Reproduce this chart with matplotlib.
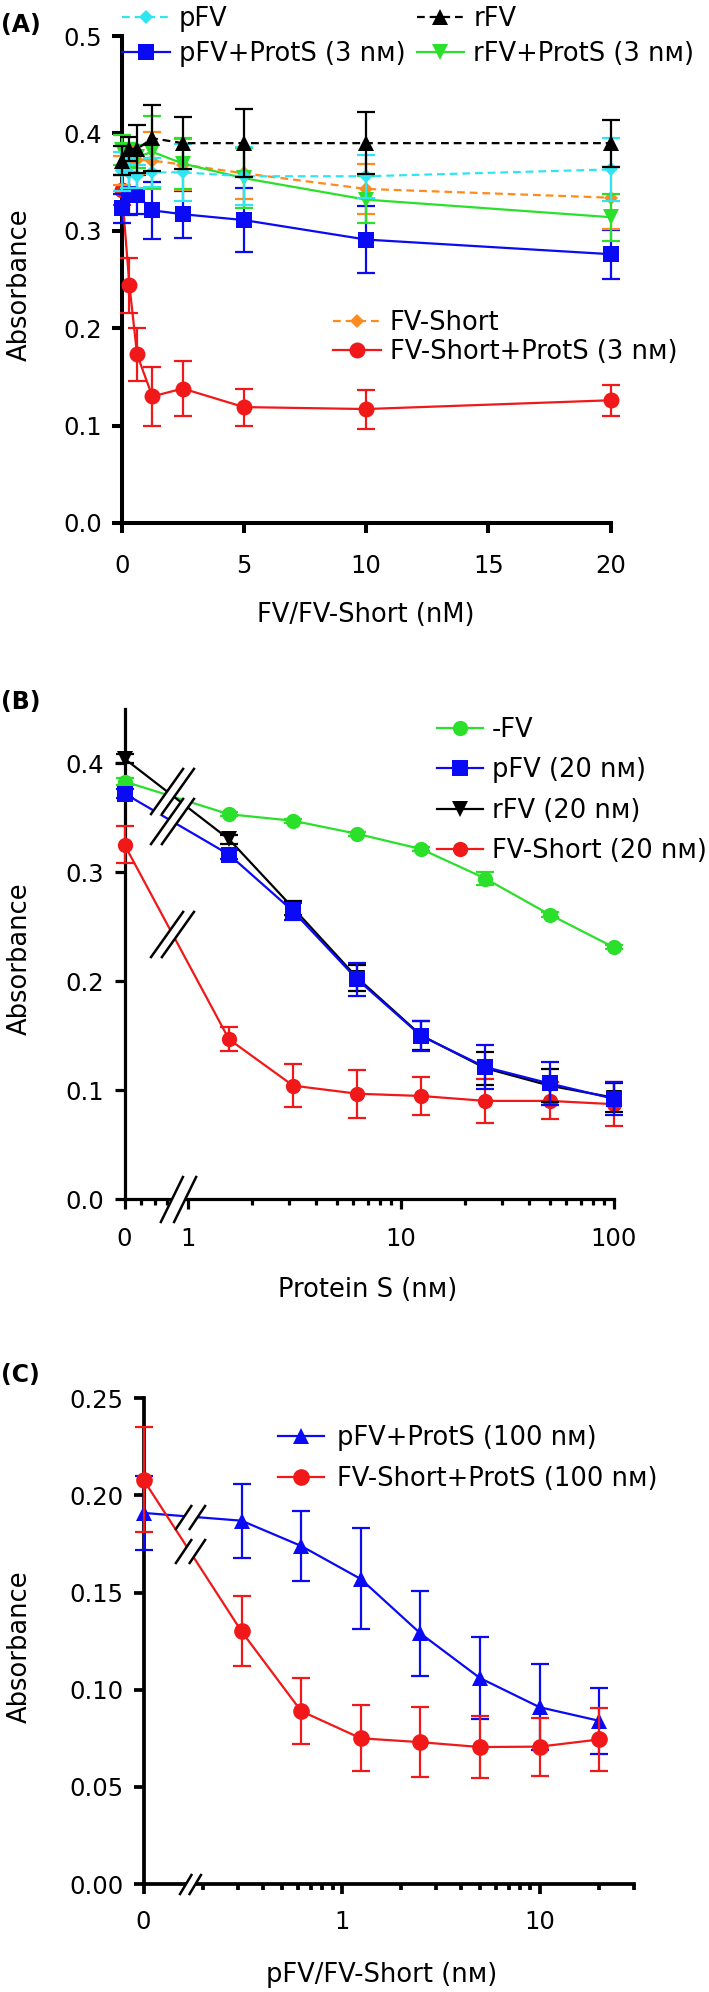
import numpy as np
import matplotlib
matplotlib.use("Agg")
import matplotlib.pyplot as plt
from matplotlib.path import Path

plt.rcParams['font.family'] = ['DejaVu Sans']

# ---------------- data ----------------
# Panel A
xA = [0, 0.3125, 0.625, 1.25, 2.5, 5, 10, 20]
pFV_A = [0.361, 0.359, 0.356, 0.360, 0.360, 0.356, 0.356, 0.363]
pFV_A_err = [0.020, 0.015, 0.012, 0.015, 0.029, 0.030, 0.022, 0.032]
rFV_A = [0.372, 0.384, 0.384, 0.395, 0.390, 0.390, 0.390, 0.390]
rFV_A_err = [0.015, 0.012, 0.025, 0.034, 0.027, 0.035, 0.032, 0.024]
pFVPS_A = [0.323, 0.338, 0.337, 0.321, 0.317, 0.311, 0.291, 0.276]
pFVPS_A_err = [0.015, 0.022, 0.020, 0.029, 0.024, 0.033, 0.034, 0.025]
rFVPS_A = [0.383, 0.378, 0.376, 0.381, 0.369, 0.354, 0.332, 0.314]
rFVPS_A_err = [0.015, 0.012, 0.012, 0.037, 0.026, 0.031, 0.024, 0.024]
short_A = [0.362, 0.372, 0.373, 0.372, 0.368, 0.359, 0.343, 0.334]
short_A_err = [0.015, 0.015, 0.015, 0.029, 0.026, 0.026, 0.026, 0.032]
shortPS_A = [0.342, 0.244, 0.173, 0.130, 0.138, 0.119, 0.117, 0.126]
shortPS_A_err = [0.015, 0.028, 0.027, 0.030, 0.028, 0.019, 0.020, 0.016]

# Panel B
xB = [0, 1.5625, 3.125, 6.25, 12.5, 25, 50, 100]
noFV_B = [0.383, 0.353, 0.347, 0.335, 0.321, 0.294, 0.261, 0.231]
noFV_B_err = [0.003, 0.002, 0.002, 0.002, 0.002, 0.006, 0.002, 0.002]
pFV_B = [0.372, 0.316, 0.264, 0.2015, 0.1495, 0.121, 0.106, 0.092]
pFV_B_err = [0.004, 0.004, 0.008, 0.015, 0.014, 0.020, 0.020, 0.015]
rFV_B = [0.404, 0.330, 0.267, 0.203, 0.150, 0.120, 0.104, 0.093]
rFV_B_err = [0.004, 0.004, 0.006, 0.012, 0.013, 0.015, 0.015, 0.013]
short_B = [0.325, 0.1465, 0.104, 0.0966, 0.0945, 0.090, 0.090, 0.087]
short_B_err = [0.017, 0.011, 0.020, 0.022, 0.017, 0.020, 0.017, 0.020]

# Panel C
xC = [0, 0.3125, 0.625, 1.25, 2.5, 5, 10, 20]
pFVPS_C = [0.191, 0.187, 0.174, 0.157, 0.129, 0.106, 0.091, 0.084]
pFVPS_C_err = [0.019, 0.019, 0.018, 0.026, 0.022, 0.021, 0.022, 0.017]
shortPS_C = [0.208, 0.130, 0.089, 0.075, 0.073, 0.0705, 0.0707, 0.0744]
shortPS_C_err = [0.027, 0.018, 0.017, 0.017, 0.018, 0.016, 0.015, 0.016]

NM = 'n\u1D0D'  # small-capital M

CYAN = '#2EE6F2'
BLUE = '#0A0AF5'
GREEN = '#2BE02B'
ORANGE = '#FF8A1E'
RED = '#F01818'
BLACK = '#000000'

TICK_FS = 17.5
LAB_FS = 18.5
LEG_FS = 18.5

W, H = 709, 1992
fig = plt.figure(figsize=(W / 100, H / 100), dpi=100)


def axes_px(left, right, top, bottom):
    return fig.add_axes([left / W, 1 - bottom / H, (right - left) / W, (bottom - top) / H])


def style_axes(ax, lw=2.6, xpad=11):
    for s in ['top', 'right']:
        ax.spines[s].set_visible(False)
    for s in ['left', 'bottom']:
        ax.spines[s].set_linewidth(lw)
    ax.tick_params(axis='both', which='major', direction='out', length=7.5, width=lw,
                   labelsize=TICK_FS, color='black')
    ax.tick_params(axis='both', which='minor', direction='out', length=4.5, width=lw)
    ax.tick_params(axis='y', pad=7)
    ax.tick_params(axis='x', pad=xpad)
    ax.set_facecolor('none')


def series(ax, x, y, err, color, marker, ms, label, ls='-', z=3):
    ax.errorbar(x, y, yerr=err, fmt='none', ecolor=color, elinewidth=1.6,
                capsize=6.5, capthick=1.6, zorder=z, clip_on=False)
    ax.plot(x, y, color=color, marker=marker, markersize=ms, linestyle=ls,
            linewidth=1.6, label=label, zorder=z + 0.5, clip_on=False,
            markeredgewidth=0, dashes=(3.5, 2.2) if ls == '--' else (None, None))


def make_scale(c, f0):
    lc = np.log10(c)

    def fwd(x):
        x = np.asarray(x, dtype=float)
        out = np.empty_like(x)
        m = x >= c
        out[m] = np.log10(x[m])
        out[~m] = f0 + (x[~m] / c) * (lc - f0)
        return out

    def inv(y):
        y = np.asarray(y, dtype=float)
        out = np.empty_like(y)
        m = y >= lc
        out[m] = 10 ** y[m]
        out[~m] = (y[~m] - f0) / (lc - f0) * c
        return out
    return fwd, inv


def slash_marker(dx, sep, rect=False):
    # two parallel slashes, half-height 1
    a1 = (-sep - dx, -1.0); b1 = (-sep + dx, 1.0)
    a2 = (sep - dx, -1.0); b2 = (sep + dx, 1.0)
    if rect:
        verts = [a1, a2, b2, b1, a1]
        codes = [Path.MOVETO, Path.LINETO, Path.LINETO, Path.LINETO, Path.CLOSEPOLY]
    else:
        verts = [a1, b1, a2, b2]
        codes = [Path.MOVETO, Path.LINETO, Path.MOVETO, Path.LINETO]
    return Path(verts, codes)


def draw_break(ax, x, y, dx, sep, size, lw=1.8):
    ax.plot([x], [y], marker=slash_marker(dx, sep, rect=True), markersize=size,
            color='white', markeredgewidth=0, linestyle='none', zorder=20, clip_on=False)
    ax.plot([x], [y], marker=slash_marker(dx, sep), markersize=size,
            color='black', markeredgewidth=lw, fillstyle='none', linestyle='none',
            zorder=21, clip_on=False)


def interp_y(fwd, xs, ys, xb):
    f = fwd(np.array([xs[0], xs[1], xb]))
    t = (f[2] - f[0]) / (f[1] - f[0])
    return ys[0] + t * (ys[1] - ys[0])


# ---------------- Panel A ----------------
axA = axes_px(121.8, 610.5, 36, 523)
style_axes(axA, lw=2.9, xpad=15)
series(axA, xA, shortPS_A, shortPS_A_err, RED, 'o', 11.5, 'FV-Short+ProtS (3 ' + NM + ')', z=3)
series(axA, xA, pFVPS_A, pFVPS_A_err, BLUE, 's', 12, 'pFV+ProtS (3 ' + NM + ')', z=4)
series(axA, xA, short_A, short_A_err, ORANGE, 'D', 7.5, 'FV-Short', ls='--', z=5)
series(axA, xA, rFVPS_A, rFVPS_A_err, GREEN, 'v', 12, 'rFV+ProtS (3 ' + NM + ')', z=6)
series(axA, xA, pFV_A, pFV_A_err, CYAN, 'D', 7.5, 'pFV', ls='--', z=7)
series(axA, xA, rFV_A, rFV_A_err, BLACK, '^', 11, 'rFV', ls='--', z=8)
axA.set_xlim(0, 20)
axA.set_ylim(0, 0.5)
axA.set_xticks([0, 5, 10, 15, 20])
axA.set_yticks([0, 0.1, 0.2, 0.3, 0.4, 0.5])
axA.set_yticklabels(['0.0', '0.1', '0.2', '0.3', '0.4', '0.5'])
axA.set_xlabel('FV/FV-Short (nM)', fontsize=LAB_FS)
axA.xaxis.set_label_coords(0.5, -0.189)
axA.xaxis.label.set_va('center')
axA.set_ylabel('Absorbance', fontsize=LAB_FS)
axA.yaxis.set_label_coords(-0.208, 0.489)
axA.yaxis.label.set_va('center')

hA, lA = axA.get_legend_handles_labels()
d = dict(zip(lA, hA))
top_labels = ['pFV', 'pFV+ProtS (3 ' + NM + ')', 'rFV', 'rFV+ProtS (3 ' + NM + ')']
legA1 = axA.legend([d[k] for k in top_labels], top_labels, ncol=2, loc='upper left',
                   bbox_to_anchor=(122 / W, 1 - 6 / H), bbox_transform=fig.transFigure,
                   frameon=False, fontsize=LEG_FS, borderpad=0, borderaxespad=0,
                   handlelength=1.85, handletextpad=0.35, columnspacing=0.45,
                   labelspacing=0.36, numpoints=1)
axA.add_artist(legA1)
low_labels = ['FV-Short', 'FV-Short+ProtS (3 ' + NM + ')']
axA.legend([d[k] for k in low_labels], low_labels, loc='upper left',
           bbox_to_anchor=(333 / W, 1 - 310 / H), bbox_transform=fig.transFigure,
           frameon=False, fontsize=LEG_FS, borderpad=0, borderaxespad=0,
           handlelength=1.85, handletextpad=0.35, labelspacing=0.12, numpoints=1)

# ---------------- Panel B ----------------
fB, iB = make_scale(0.6, -0.297)
axB = axes_px(124.5, 613.6, 708.5, 1199)
style_axes(axB, lw=2.3, xpad=13)
axB.set_xscale('function', functions=(fB, iB))
series(axB, xB, noFV_B, noFV_B_err, GREEN, 'o', 11, '-FV', z=3)
series(axB, xB, short_B, short_B_err, RED, 'o', 11, 'FV-Short (20 ' + NM + ')', z=4)
series(axB, xB, rFV_B, rFV_B_err, BLACK, 'v', 11, 'rFV (20 ' + NM + ')', z=5)
series(axB, xB, pFV_B, pFV_B_err, BLUE, 's', 11.5, 'pFV (20 ' + NM + ')', z=6)
axB.set_xlim(0, 100)
axB.set_ylim(0, 0.45)
axB.set_yticks([0, 0.1, 0.2, 0.3, 0.4])
axB.set_yticklabels(['0.0', '0.1', '0.2', '0.3', '0.4'])
axB.set_xticks([0, 1, 10, 100])
axB.set_xticklabels(['0', '1', '10', '100'])
minorB = [0.6, 0.7, 0.8] + [v * m for m in (1, 10) for v in range(2, 10)]
axB.set_xticks(minorB, minor=True)
axB.set_xlabel('Protein S (' + NM + ')', fontsize=LAB_FS)
axB.xaxis.set_label_coords(0.497, -0.1855)
axB.xaxis.label.set_va('center')
axB.set_ylabel('Absorbance', fontsize=LAB_FS)
axB.yaxis.set_label_coords(-0.214, 0.49)
axB.yaxis.label.set_va('center')
hB, lB = axB.get_legend_handles_labels()
dB = dict(zip(lB, hB))
orderB = ['-FV', 'pFV (20 ' + NM + ')', 'rFV (20 ' + NM + ')', 'FV-Short (20 ' + NM + ')']
axB.legend([dB[k] for k in orderB], orderB, loc='upper left',
           bbox_to_anchor=(437 / W, 1 - 717 / H), bbox_transform=fig.transFigure,
           frameon=False, fontsize=LEG_FS, borderpad=0, borderaxespad=0,
           handlelength=1.8, handletextpad=0.35, labelspacing=0.56, numpoints=1)
# breaks
xbB_axis = 10 ** -0.046
xbB_line = 10 ** -0.073
draw_break(axB, xbB_axis, 0.0, 0.49, 0.28, 34)
draw_break(axB, xbB_line, interp_y(fB, xB, rFV_B, xbB_line) + 0.004, 0.71, 0.23, 34)
draw_break(axB, xbB_line, interp_y(fB, xB, pFV_B, xbB_line), 0.71, 0.23, 34)
draw_break(axB, xbB_line, interp_y(fB, xB, short_B, xbB_line), 0.71, 0.23, 34)

# ---------------- Panel C ----------------
fC, iC = make_scale(0.2, -1.0)
axC = axes_px(143.6, 634, 1398.3, 1884)
style_axes(axC, lw=2.7, xpad=11)
axC.set_xscale('function', functions=(fC, iC))
series(axC, xC, pFVPS_C, pFVPS_C_err, BLUE, '^', 11, 'pFV+ProtS (100 ' + NM + ')', z=3)
series(axC, xC, shortPS_C, shortPS_C_err, RED, 'o', 12, 'FV-Short+ProtS (100 ' + NM + ')', z=4)
axC.set_xlim(0, 30)
axC.set_ylim(0, 0.25)
axC.set_yticks([0, 0.05, 0.10, 0.15, 0.20, 0.25])
axC.set_yticklabels(['0.00', '0.05', '0.10', '0.15', '0.20', '0.25'])
axC.set_xticks([0, 1, 10])
axC.set_xticklabels(['0', '1', '10'])
minorC = [v / 10 for v in range(2, 10)] + list(range(2, 10)) + [20, 30]
axC.set_xticks(minorC, minor=True)
axC.set_xlabel('pFV/FV-Short (' + NM + ')', fontsize=LAB_FS)
axC.xaxis.set_label_coords(0.486, -0.187)
axC.xaxis.label.set_va('center')
axC.set_ylabel('Absorbance', fontsize=LAB_FS)
axC.yaxis.set_label_coords(-0.252, 0.488)
axC.yaxis.label.set_va('center')
axC.legend(loc='upper left', bbox_to_anchor=(278 / W, 1 - 1425 / H),
           bbox_transform=fig.transFigure, frameon=False, fontsize=LEG_FS, borderpad=0,
           borderaxespad=0, handlelength=1.8, handletextpad=0.5, labelspacing=0.6,
           numpoints=1)
xbC = 0.155
draw_break(axC, xbC, 0.0, 0.6, 0.45, 16)
draw_break(axC, xbC, interp_y(fC, xC, pFVPS_C, xbC), 0.67, 0.55, 22)
draw_break(axC, xbC, interp_y(fC, xC, shortPS_C, xbC), 0.67, 0.55, 22)

# panel letters
for txt, yy in [('(A)', 25), ('(B)', 702), ('(C)', 1375)]:
    fig.text(1 / W, 1 - yy / H, txt, fontsize=17, fontweight='bold', ha='left', va='center')

fig.savefig('out.png', dpi=100)
